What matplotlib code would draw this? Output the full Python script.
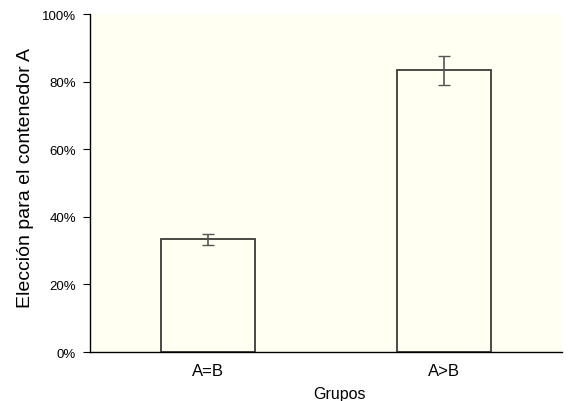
import matplotlib
matplotlib.use('Agg')
import matplotlib.pyplot as plt
from matplotlib.ticker import PercentFormatter

plt.rcParams['font.family'] = ['Liberation Sans', 'DejaVu Sans']

groups = ['A=B', 'A>B']
choice_pct = [33.3, 83.3]
err_pct = [1.7, 4.2]

bg = '#fffff2'
fig = plt.figure(figsize=(5.69, 4.02), dpi=100)
ax = fig.add_axes([90 / 569, 1 - 353 / 402, 472 / 569, 338 / 402])
ax.set_facecolor(bg)

x = range(len(groups))
ax.bar(x, choice_pct, width=0.4, color=bg, edgecolor='#3a3a3a', linewidth=1.3)
ax.errorbar(x, choice_pct, yerr=err_pct, fmt='none', ecolor='#555555',
            elinewidth=1.2, capsize=4, capthick=1.0)

ax.set_xlim(-0.5, 1.5)
ax.set_ylim(0, 100)
ax.set_yticks([0, 20, 40, 60, 80, 100])
ax.yaxis.set_major_formatter(PercentFormatter(decimals=0))
ax.set_xticks(list(x))
ax.set_xticklabels(groups)
ax.tick_params(axis='x', length=0, labelsize=12, pad=8)
ax.tick_params(axis='y', length=5, labelsize=9.5, pad=5)

for side in ['top', 'right']:
    ax.spines[side].set_visible(False)
for side in ['left', 'bottom']:
    ax.spines[side].set_linewidth(1.0)

ax.set_xlabel('Grupos', fontsize=11.5, labelpad=6)
ax.xaxis.label.set_x(0.529)
ax.set_ylabel('Elección para el contenedor A', fontsize=14, labelpad=6)
ax.yaxis.label.set_y(0.518)

fig.savefig('out.png', dpi=100)
